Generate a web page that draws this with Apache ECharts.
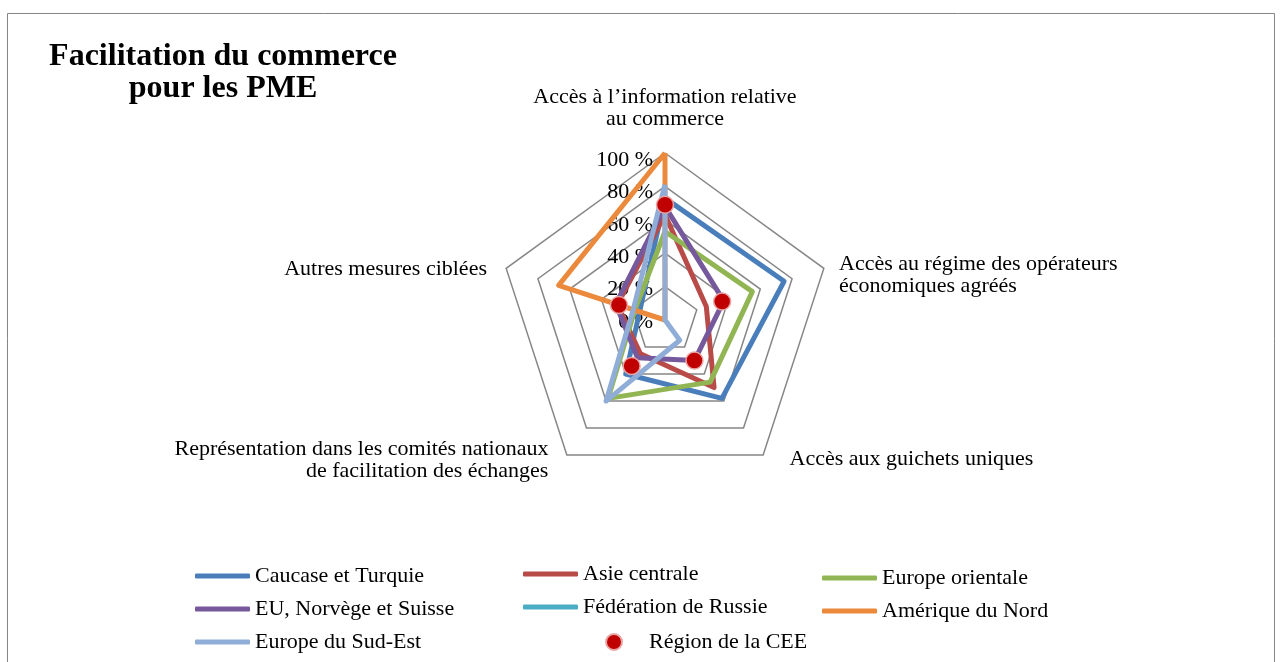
<!DOCTYPE html>
<html>
<head>
<meta charset="utf-8">
<script src="https://cdn.jsdelivr.net/npm/echarts@6/dist/echarts.min.js"></script>
<style>
  html, body { margin: 0; padding: 0; background: #fff; }
  #chart { width: 1282px; height: 662px; }
</style>
</head>
<body>
<div id="chart"></div>
<script>
// axes, clockwise from the top as in the picture
const axisNames = [
  "Accès à l’information relative\nau commerce",
  "Accès au régime des opérateurs\néconomiques agréés",
  "Accès aux guichets uniques",
  "Représentation dans les comités nationaux\nde facilitation des échanges",
  "Autres mesures ciblées"
];
const pctTicks = [0, 20, 40, 60, 80, 100];

const seriesNames = [
  "Caucase et Turquie",
  "Asie centrale",
  "Europe orientale",
  "EU, Norvège et Suisse",
  "Fédération de Russie",
  "Amérique du Nord",
  "Europe du Sud-Est"
];
const seriesColors = ["#4a7ebb", "#b84b48", "#92b553", "#76599c", "#4bacc6", "#eb8a3d", "#8fadd6"];

const caucase = [73, 75, 58, 40, 16];
const asieCentrale = [63, 26, 50, 25, 30];
const europeOrientale = [53, 55, 46, 58, 19];
const euNorvegeSuisse = [68, 37, 30, 28, 31];
const federationRussie = [0, 0, 0, 0, 0];
const ameriqueNord = [100, 0, 0, 0, 67];
const europeSudEst = [81, 0, 15, 60, 20];
const regionCEE = [69, 36, 30, 34, 29];

const allValues = [caucase, asieCentrale, europeOrientale, euNorvegeSuisse, federationRussie, ameriqueNord, europeSudEst];

// echarts lays radar axes out counter-clockwise, so flip the order
const order = [0, 4, 3, 2, 1];
function reorder(arr) {
  return order.map(i => arr[i]);
}

const serif = "'Liberation Serif', 'DejaVu Serif', serif";
const labelSize = 22;
const cx = 665, cy = 320;

// one radar per axis name, each shifted a little so its name sits where Excel put it
const nameShift = [
  [0, -7],
  [0, 12],
  [17, -9],
  [-9, -8],
  [-4, 6]
];

var myChart = echarts.init(document.getElementById("chart"));

function makeRadar(k) {
  return {
    center: [cx + nameShift[k][0], cy + nameShift[k][1]],
    radius: 167,
    startAngle: 90,
    shape: "polygon",
    splitNumber: 5,
    indicator: reorder(axisNames).map(n => ({ name: n, min: 0, max: 100 })),
    nameGap: 16,
    axisName: {
      color: "#000",
      fontFamily: serif,
      fontSize: labelSize,
      lineHeight: 22,
      formatter: function(name) {
        return name === axisNames[k] ? name : "";
      }
    },
    axisLine: { show: false },
    axisTick: { show: false },
    axisLabel: { show: false },
    splitArea: { show: false },
    splitLine: { show: false }
  };
}

// the radar that carries the grid and the series
let radars = [{
  center: [cx, cy],
  radius: 167,
  startAngle: 90,
  shape: "polygon",
  splitNumber: 5,
  indicator: reorder(axisNames).map(n => ({ name: n, min: 0, max: 100 })),
  axisName: { show: false },
  axisLine: { show: false },
  axisTick: { show: false },
  axisLabel: { show: false },
  splitArea: { show: false },
  splitLine: { lineStyle: { color: "#868686", width: 1.5 } }
}].concat([0, 1, 2, 3, 4].map(makeRadar));

let lineData = allValues.map(function(vals, i) {
  return {
    name: seriesNames[i],
    value: reorder(vals),
    itemStyle: { color: seriesColors[i] },
    lineStyle: { color: seriesColors[i], width: 5 }
  };
});

const legendText = { fontFamily: serif, fontSize: labelSize, lineHeight: 24, color: "#000" };

let option = {
  animation: false,
  backgroundColor: "#fff",
  title: {
    text: "Facilitation du commerce\npour les PME",
    left: 218,
    top: 36,
    textAlign: "center",
    textStyle: {
      fontFamily: serif,
      fontWeight: "bold",
      fontSize: 32,
      lineHeight: 32,
      color: "#000"
    }
  },
  graphic: [
    {
      type: "rect",
      shape: { x: 7.5, y: 13.5, width: 1267, height: 700 },
      style: { fill: "none", stroke: "#868686", lineWidth: 1 },
      silent: true
    }
  ],
  legend: [
    {
      orient: "vertical", left: 190, top: 559, itemGap: 9,
      itemWidth: 55, itemHeight: 5, icon: "roundRect",
      textStyle: legendText,
      data: [seriesNames[0], seriesNames[3], seriesNames[6]]
    },
    {
      orient: "vertical", left: 518, top: 557, itemGap: 9,
      itemWidth: 55, itemHeight: 5, icon: "roundRect",
      textStyle: legendText,
      data: [seriesNames[1], seriesNames[4]]
    },
    {
      orient: "vertical", left: 817, top: 561, itemGap: 9,
      itemWidth: 55, itemHeight: 5, icon: "roundRect",
      textStyle: legendText,
      data: [seriesNames[2], seriesNames[5]]
    },
    {
      orient: "vertical", left: 600, top: 625,
      itemWidth: 16, itemHeight: 16, icon: "circle",
      textStyle: Object.assign({}, legendText, { padding: [0, 0, 0, 22] }),
      data: ["Région de la CEE"]
    }
  ],
  radar: radars,
  // percentage scale drawn on the left of the top axis
  grid: { left: 665, top: 160, width: 1, height: 162 },
  xAxis: { type: "value", show: false, min: 0, max: 1 },
  yAxis: {
    type: "value",
    min: pctTicks[0],
    max: pctTicks[pctTicks.length - 1],
    interval: 20,
    axisLine: { show: false },
    axisTick: { show: false },
    splitLine: { show: false },
    axisLabel: {
      margin: 12,
      color: "#000",
      fontFamily: serif,
      fontSize: labelSize,
      formatter: "{value} %"
    }
  },
  series: [
    {
      type: "radar",
      radarIndex: 0,
      symbol: "none",
      data: lineData,
      z: 2
    },
    {
      type: "radar",
      radarIndex: 0,
      symbol: "circle",
      symbolSize: 17,
      z: 3,
      data: [
        {
          name: "Région de la CEE",
          value: reorder(regionCEE),
          itemStyle: { color: "#c00000", borderColor: "#e8a5a5", borderWidth: 1.5 },
          lineStyle: { width: 0, opacity: 0 }
        }
      ]
    }
  ]
};
myChart.setOption(option);
</script>
</body>
</html>
